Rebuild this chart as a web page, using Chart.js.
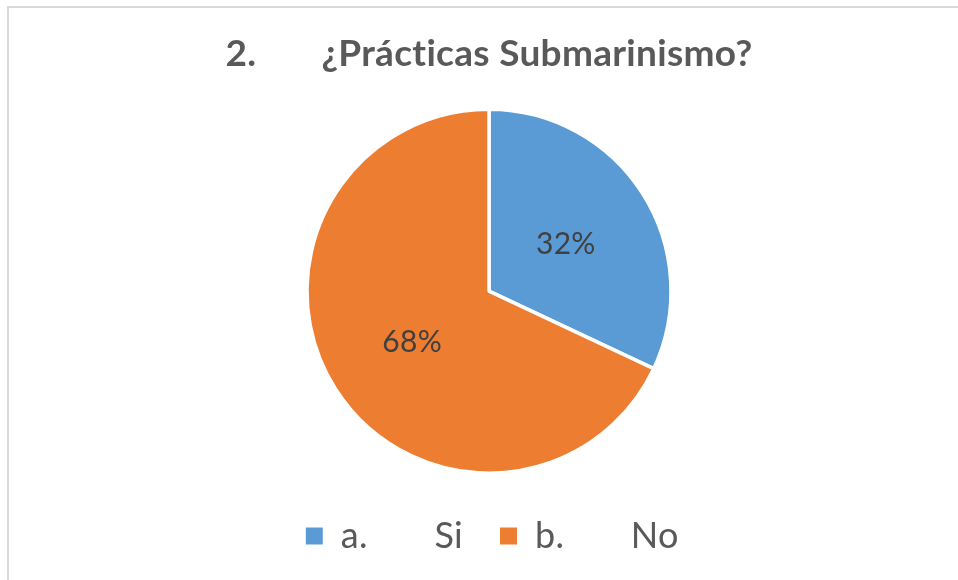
<!DOCTYPE html>
<html lang="es">
<head>
    <meta charset="UTF-8">
    <title>¿Prácticas Submarinismo?</title>
    <script src="https://cdn.jsdelivr.net/npm/chart.js"></script>
    <style>
        html, body {
            margin: 0;
            background: #fff;
            overflow: hidden;
            font-family: Lato, sans-serif;
        }
        #frame {
            position: absolute;
            left: 7px;
            top: 6px;
            width: 1000px;
            height: 700px;
            border: 2px solid #d9d9d9;
        }
        #wrap {
            position: absolute;
            left: 0;
            top: 0;
            width: 958px;
            height: 580px;
        }
    </style>
</head>
<body>
    <div id="frame"></div>
    <div id="wrap"><canvas id="pieChart"></canvas></div>

    <script>
        const chartTitle = "2.       ¿Prácticas Submarinismo?";
        const categories = ["a.       Si", "b.       No"];
        const percentages = [32, 68];
        const sliceColors = ["#5B9BD5", "#ED7D31"];

        // a little letter spacing keeps Lato from joining "ti"
        const noLigatures = {
            id: "noLigatures",
            beforeDraw(chart) {
                chart.ctx.letterSpacing = "0.3px";
            }
        };

        // draw the percentage inside every slice
        const sliceLabels = {
            id: "sliceLabels",
            afterDatasetsDraw(chart) {
                const ctx = chart.ctx;
                const meta = chart.getDatasetMeta(0);
                ctx.save();
                ctx.font = "30px Lato, sans-serif";
                ctx.fillStyle = "#404040";
                ctx.textAlign = "center";
                ctx.textBaseline = "middle";
                meta.data.forEach((arc, i) => {
                    const pos = arc.tooltipPosition();
                    ctx.fillText(percentages[i] + "%", pos.x, pos.y + 2);
                });
                ctx.restore();
            }
        };

        const ctx = document.getElementById("pieChart").getContext("2d");
        new Chart(ctx, {
            type: "pie",
            data: {
                labels: categories,
                datasets: [{
                    data: percentages,
                    backgroundColor: sliceColors,
                    borderColor: "#ffffff",
                    borderWidth: 3.5,
                    radius: 182
                }]
            },
            options: {
                responsive: true,
                maintainAspectRatio: false,
                animation: false,
                layout: {
                    padding: { top: 32, bottom: 16, left: 20, right: 0 }
                },
                plugins: {
                    title: {
                        display: true,
                        text: chartTitle,
                        color: "#595959",
                        font: { family: "Lato, sans-serif", size: 37, weight: "bold" },
                        padding: { top: 0, bottom: 25 }
                    },
                    legend: {
                        position: "bottom",
                        labels: {
                            color: "#595959",
                            font: { family: "Lato, sans-serif", size: 36 },
                            boxWidth: 17,
                            boxHeight: 17,
                            padding: 37,
                            generateLabels(chart) {
                                const items = Chart.overrides.pie.plugins.legend.labels.generateLabels(chart);
                                items.forEach(item => { item.lineWidth = 0; });
                                return items;
                            }
                        }
                    },
                    tooltip: { enabled: false }
                }
            },
            plugins: [noLigatures, sliceLabels]
        });
    </script>
</body>
</html>
